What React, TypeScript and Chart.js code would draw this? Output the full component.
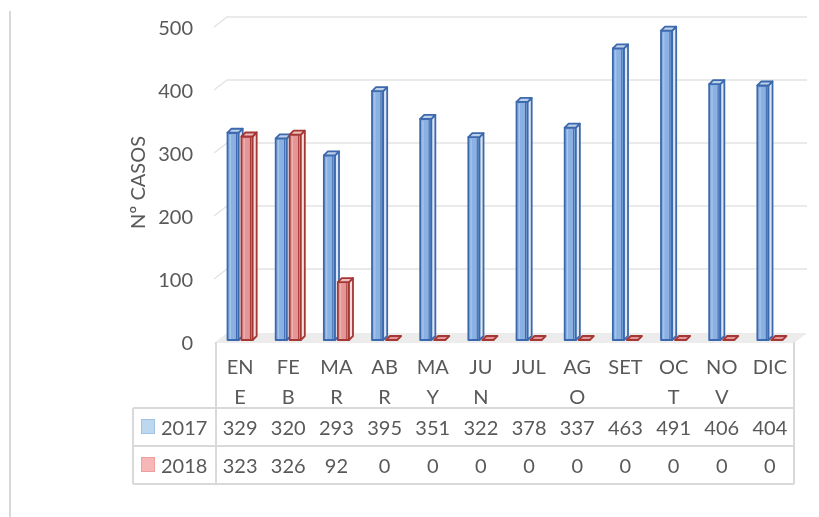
import { useEffect, useRef } from 'react';
import { Chart, registerables } from 'chart.js';

Chart.register(...registerables);

// ---- data ----
const monthLines = [['EN', 'E'], ['FE', 'B'], ['MA', 'R'], ['AB', 'R'], ['MA', 'Y'], ['JU', 'N'], ['JUL'], ['AG', 'O'], ['SET'], ['OC', 'T'], ['NO', 'V'], ['DIC']];
const seriesNames = ['2017', '2018'];
const values2017 = [329, 320, 293, 395, 351, 322, 378, 337, 463, 491, 406, 404];
const values2018 = [323, 326, 92, 0, 0, 0, 0, 0, 0, 0, 0, 0];
const yMin = 0;
const yMax = 500;
const yStep = 100;
const yTitle = 'Nº CASOS';

// ---- styles ----
const FONT = 'Lato';
const TEXT = '#595959';
const GRID = '#E4E4E4';
const TABLE_LINE = '#D9D9D9';
const styles = [
  { front: '#8AB1E1', inner: '#A9C6EC', edge: '#3C69AD', side: '#DDE7F3', top: '#BCD0EA', key: '#BDD7EE', keyEdge: '#9DC3E6' },
  { front: '#E49596', inner: '#EEB2B2', edge: '#A53735', side: '#F3DEDD', top: '#EDBDBD', key: '#F8B7B7', keyEdge: '#EE9E9E' },
];
const BAR_DX = 4;
const BAR_DY = 4;
const WALL_DX = 13;
const WALL_DY = 10;

const line = (ctx: CanvasRenderingContext2D, x1: number, y1: number, x2: number, y2: number) => {
  ctx.beginPath();
  ctx.moveTo(x1, y1);
  ctx.lineTo(x2, y2);
  ctx.stroke();
};

const backdrop = {
  id: 'backdrop',
  beforeDatasetsDraw(chart: any) {
    const { ctx, chartArea, scales } = chart;
    const { left, right } = chartArea;
    const y = scales.y;
    ctx.save();
    ctx.strokeStyle = TABLE_LINE;
    ctx.lineWidth = 2;
    line(ctx, 10, 11, 10, 517);
    const fy = y.getPixelForValue(0) + 3;
    ctx.fillStyle = '#ECECEC';
    ctx.beginPath();
    ctx.moveTo(left - 2, fy);
    ctx.lineTo(right, fy);
    ctx.lineTo(right + WALL_DX, fy - WALL_DY);
    ctx.lineTo(left - 2 + WALL_DX, fy - WALL_DY);
    ctx.closePath();
    ctx.fill();
    ctx.strokeStyle = GRID;
    ctx.lineWidth = 1.5;
    for (const t of y.ticks) {
      if (t.value === 0) continue;
      const py = y.getPixelForValue(t.value) + 2;
      ctx.beginPath();
      ctx.moveTo(left - 2, py);
      ctx.lineTo(left - 2 + WALL_DX, py - WALL_DY);
      ctx.lineTo(right + WALL_DX, py - WALL_DY);
      ctx.stroke();
    }
    ctx.restore();
  },
  afterDatasetsDraw(chart: any) {
    const { ctx } = chart;
    const n = chart.data.labels.length;
    const nd = chart.data.datasets.length;
    ctx.save();
    ctx.lineJoin = 'round';
    for (let i = 0; i < n; i++) {
      for (let d = 0; d < nd; d++) {
        const el = chart.getDatasetMeta(d).data[i];
        if (!el) continue;
        const { x, y, base, width } = el.getProps(['x', 'y', 'base', 'width'], true);
        const s = styles[d];
        const l = x - width / 2;
        const r = x + width / 2;
        ctx.strokeStyle = s.edge;
        ctx.lineWidth = 1.8;
        if (base - y > 0.5) {
          ctx.fillStyle = s.front;
          ctx.fillRect(l, y, width, base - y);
          ctx.strokeStyle = s.inner;
          ctx.lineWidth = 1.2;
          line(ctx, l + 2.8, y + 2, l + 2.8, base - 1);
          ctx.strokeStyle = s.edge;
          ctx.lineWidth = 1;
          line(ctx, r - 2.2, y + 1, r - 2.2, base - 1);
          ctx.lineWidth = 1.8;
          ctx.strokeRect(l, y, width, base - y);
          ctx.fillStyle = s.side;
          ctx.beginPath();
          ctx.moveTo(r, y);
          ctx.lineTo(r + BAR_DX, y - BAR_DY);
          ctx.lineTo(r + BAR_DX, base - BAR_DY);
          ctx.lineTo(r, base);
          ctx.closePath();
          ctx.fill();
          ctx.stroke();
        }
        ctx.fillStyle = base - y > 0.5 ? s.top : s.front;
        ctx.beginPath();
        ctx.moveTo(l, y);
        ctx.lineTo(l + BAR_DX, y - BAR_DY);
        ctx.lineTo(r + BAR_DX, y - BAR_DY);
        ctx.lineTo(r, y);
        ctx.closePath();
        ctx.fill();
        ctx.stroke();
      }
    }
    ctx.restore();
  },
  afterDraw(chart: any) {
    const { ctx, chartArea, scales } = chart;
    const { left, right } = chartArea;
    const x = scales.x;
    const fy = scales.y.getPixelForValue(0) + 3;
    const legendLeft = 133;
    const rowTop = [408, 446];
    const rowBottom = 484;
    ctx.save();
    ctx.strokeStyle = TABLE_LINE;
    ctx.lineWidth = 2;
    line(ctx, left, fy - 1, left, rowBottom);
    line(ctx, right, fy - 1, right, rowBottom);
    line(ctx, legendLeft, rowTop[0], legendLeft, rowBottom);
    line(ctx, legendLeft, rowTop[0], right, rowTop[0]);
    line(ctx, legendLeft, rowTop[1], right, rowTop[1]);
    line(ctx, legendLeft, rowBottom, right, rowBottom);

    ctx.fillStyle = TEXT;
    ctx.font = `20px ${FONT}`;
    ctx.textAlign = 'center';
    ctx.textBaseline = 'alphabetic';
    const labels = chart.data.labels;
    for (let i = 0; i < labels.length; i++) {
      const cx = x.getPixelForValue(i);
      const lab = labels[i];
      const lines = Array.isArray(lab) ? lab : [lab];
      lines.forEach((t: string, k: number) => ctx.fillText(t, cx, 374 + k * 30));
    }
    const rowBase = [434.5, 473];
    chart.data.datasets.forEach((ds: any, d: number) => {
      const s = styles[d];
      const top = rowTop[d] + 11;
      ctx.fillStyle = s.key;
      ctx.fillRect(141, top, 14, 15);
      ctx.strokeStyle = s.keyEdge;
      ctx.lineWidth = 1;
      ctx.strokeRect(141.5, top + 0.5, 13, 14);
      ctx.fillStyle = TEXT;
      ctx.textAlign = 'left';
      ctx.fillText(ds.label, 161, rowBase[d]);
      ctx.textAlign = 'center';
      ds.data.forEach((v: number, i: number) => {
        ctx.fillText(String(v), x.getPixelForValue(i), rowBase[d]);
      });
    });
    ctx.restore();
  },
};

export default function App() {
  const ref = useRef<HTMLCanvasElement | null>(null);
  useEffect(() => {
    if (!ref.current) return;
    const chart = new Chart(ref.current, {
      type: 'bar',
      data: {
        labels: monthLines,
        datasets: [
          { label: seriesNames[0], data: values2017, backgroundColor: styles[0].front, borderColor: styles[0].edge, borderWidth: 1.5 },
          { label: seriesNames[1], data: values2018, backgroundColor: styles[1].front, borderColor: styles[1].edge, borderWidth: 1.5 },
        ],
      },
      options: {
        animation: false,
        responsive: true,
        maintainAspectRatio: false,
        events: [],
        layout: { padding: { left: 127, right: 25, top: 25, bottom: 177 } },
        datasets: { bar: { categoryPercentage: 0.58, barPercentage: 0.8 } },
        plugins: { legend: { display: false }, tooltip: { enabled: false }, title: { display: false } },
        scales: {
          x: { display: false },
          y: {
            min: yMin,
            max: yMax,
            afterFit: (s: any) => { s.width = 216 - 127; s.paddingTop = 0; s.paddingBottom = 0; },
            ticks: { stepSize: yStep, padding: 23, labelOffset: 4, color: TEXT, font: { family: FONT, size: 20 } },
            grid: { display: false, drawTicks: false },
            border: { display: false },
            title: { display: true, text: yTitle, color: TEXT, font: { family: FONT, size: 20 }, padding: { top: 0, bottom: 0 } },
          },
        },
      },
      plugins: [backdrop],
    });
    return () => chart.destroy();
  }, []);
  return (
    <div style={{ position: 'fixed', left: 0, top: 0, width: 819, height: 517, background: '#fff' }}>
      <canvas ref={ref} />
    </div>
  );
}
